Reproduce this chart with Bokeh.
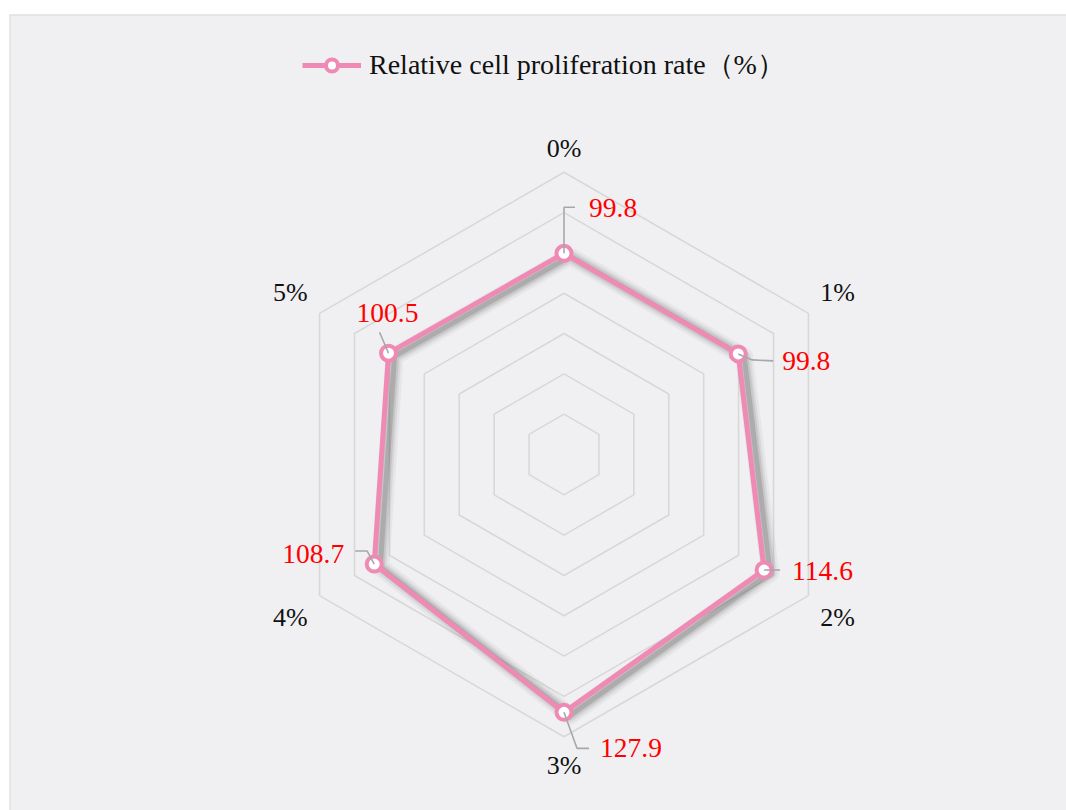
import math
from bokeh.plotting import figure
from bokeh.models import Range1d, Legend, LegendItem, Span
from bokeh.core.properties import value
from bokeh.embed import file_html
from bokeh.resources import INLINE

# ---- data ----
categories = ["0%", "1%", "2%", "3%", "4%", "5%"]
rates = [99.8, 99.8, 114.6, 127.9, 108.7, 100.5]
rate_labels = ["99.8", "99.8", "114.6", "127.9", "108.7", "100.5"]
ring_values = [20, 40, 60, 80, 100, 120, 140]
series_name = "Relative cell proliferation rate（%）"

# ---- style ----
PINK = "#ee8ab3"
SERIF = "Liberation Serif"
S = 2.016  # px per value unit
W, H = 1066, 810
FL, FT = 9, 14
FW, FH = W - FL, H - FT
CX, CY = 563.5 - FL, 454.0 - FT  # centre in frame px

p = figure(width=W, height=H, output_backend="svg", toolbar_location=None,
           x_axis_location=None, y_axis_location=None,
           x_range=Range1d(-CX / S, (FW - CX) / S),
           y_range=Range1d(-(FH - CY) / S, CY / S),
           min_border_left=FL, min_border_right=0, min_border_top=FT, min_border_bottom=0,
           background_fill_color="#f0f0f2", border_fill_color="#ffffff",
           outline_line_color=None)
p.grid.visible = False
p.add_layout(Span(location=-CX / S, dimension="height", line_color="#dadada", line_width=2))
p.add_layout(Span(location=CY / S, dimension="width", line_color="#dadada", line_width=2))

n = len(categories)
ang = [2 * math.pi * k / n for k in range(n)]

# grid rings
rx, ry = [], []
for r in ring_values:
    rx.append([r * math.sin(a) for a in ang] + [0])
    ry.append([r * math.cos(a) for a in ang] + [r])
p.multi_line(rx, ry, line_color="#d8d8d8", line_width=1.6)

# axis labels
LR = 296 / S
for a, c in zip(ang, categories):
    sx, cy = math.sin(a), math.cos(a)
    align = "left" if sx > 0.01 else ("right" if sx < -0.01 else "center")
    base = "bottom" if cy > 0 else "top"
    yy = LR * cy - (4 / S if cy > 0.99 else 0)
    p.text([LR * sx], [yy], text=[c], text_align=align, text_baseline=base,
           text_font=value(SERIF), text_font_size="26px", text_color="#111111")

# series
px = [v * math.sin(a) for v, a in zip(rates, ang)]
py = [v * math.cos(a) for v, a in zip(rates, ang)]
lx, ly = px + [px[0]], py + [py[0]]

# soft shadow
off_x, off_y = 6 / S, -3 / S
for w, al in [(18, 0.06), (13, 0.09), (9, 0.13), (5, 0.22)]:
    p.line([x + off_x for x in lx], [y + off_y for y in ly], line_color="#505050",
           line_width=w, line_alpha=al, line_join="round")

line_r = p.line(lx, ly, line_color=PINK, line_width=5, line_join="round")
mark_r = p.scatter(px, py, size=15, fill_color="white", line_color=PINK, line_width=4)

# data labels with leader lines (offsets in px)
leaders = [
    [(0, 0), (0, 46), (11, 46)],
    [(0, 0), (14, -6), (35, -7)],
    [(0, 0), (16, 0)],
    [(0, 0), (13, -36), (25, -36)],
    [(0, 0), (-7, 13), (-19, 13)],
    [(0, 0), (-9, 21)],
]
text_off = [((25, 45), "left"), ((44, -7), "left"), ((28, -1), "left"),
            ((36, -36), "left"), ((-30, 10), "right"), ((-1, 40), "center")]
for x0, y0, lead, (to, al), lab in zip(px, py, leaders, text_off, rate_labels):
    p.line([x0 + dx / S for dx, dy in lead], [y0 + dy / S for dx, dy in lead],
           line_color="#a8a8a8", line_width=1.6)
    p.text([x0 + to[0] / S], [y0 + to[1] / S], text=[lab], text_align=al,
           text_baseline="middle", text_font=value(SERIF), text_font_size="27.5px",
           text_color="#ff0000")

LEG_H = 30
legend = Legend(items=[LegendItem(label=series_name, renderers=[line_r, mark_r])],
                location=(302 - FL, FH - (69 - FT) - LEG_H // 2), orientation="horizontal",
                glyph_width=59, glyph_height=LEG_H, label_height=LEG_H,
                label_standoff=8, padding=0, margin=0,
                background_fill_alpha=0, border_line_alpha=0,
                label_text_font=SERIF, label_text_font_size="28px", label_text_color="#111111")
p.add_layout(legend)

open("out.html", "w").write(file_html(p, INLINE))
